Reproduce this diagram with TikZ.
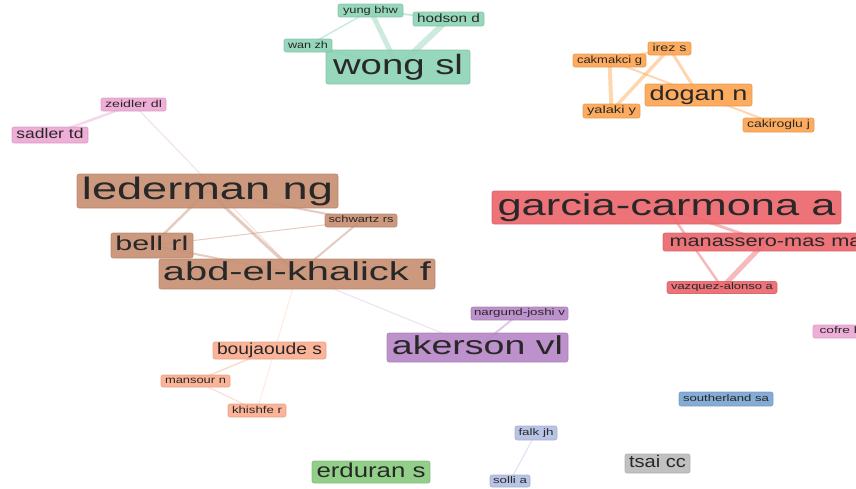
\documentclass[tikz,border=0pt]{standalone}
\usepackage{fontspec}
\setmainfont{Liberation Sans}
\usetikzlibrary{backgrounds}
\definecolor{cteal}{RGB}{143,212,183}
\definecolor{corange}{RGB}{253,166,82}
\definecolor{cpink}{RGB}{238,168,212}
\definecolor{cbrown}{RGB}{200,144,116}
\definecolor{cred}{RGB}{236,104,110}
\definecolor{cpurple}{RGB}{184,136,200}
\definecolor{csalmon}{RGB}{252,174,145}
\definecolor{cgreen}{RGB}{137,203,128}
\definecolor{clav}{RGB}{178,192,228}
\definecolor{cgray}{RGB}{188,188,188}
\definecolor{cblue}{RGB}{123,166,210}
\definecolor{txt}{RGB}{40,40,40}
\newcommand\lbl[3]{\resizebox{#2pt}{\height}{\fontsize{#1pt}{#1pt}\selectfont\vphantom{lgy}#3}}
\tikzset{
  vbox/.style={rectangle, rounded corners=2pt, fill=#1, draw=#1!88!black, line width=0.6pt,
    fill opacity=0.92, draw opacity=0.8, text opacity=1, text=txt, inner sep=0pt},
  link/.style={draw=#1, draw opacity=0.45, line cap=round},
  faint/.style={draw=#1, draw opacity=0.25, line width=1pt}
}
\begin{document}
\begin{tikzpicture}[x=1pt,y=-1pt]
\useasboundingbox (0,0) rectangle (856,488);
\clip (0,0) rectangle (856,488);
% teal cluster
\node[vbox=cteal, minimum width=144, minimum height=34] (wong) at (398,67) {\lbl{28}{130}{wong sl}};
\node[vbox=cteal, minimum width=65, minimum height=13] (yung) at (370.5,10.5) {\lbl{10}{55}{yung bhw}};
\node[vbox=cteal, minimum width=71, minimum height=14] (hodson) at (448.5,19) {\lbl{12}{63}{hodson d}};
\node[vbox=cteal, minimum width=48, minimum height=13] (wan) at (308,45.5) {\lbl{10}{40}{wan zh}};
% orange cluster
\node[vbox=corange, minimum width=43, minimum height=13] (irez) at (669.5,48.5) {\lbl{10.5}{34}{irez s}};
\node[vbox=corange, minimum width=73, minimum height=13] (cakmakci) at (609.5,60.5) {\lbl{10.5}{65}{cakmakci g}};
\node[vbox=corange, minimum width=107, minimum height=22] (dogan) at (698.5,95) {\lbl{20}{98}{dogan n}};
\node[vbox=corange, minimum width=57, minimum height=14] (yalaki) at (611.5,111) {\lbl{10.5}{49}{yalaki y}};
\node[vbox=corange, minimum width=71, minimum height=14] (cakiroglu) at (778.5,125) {\lbl{10.5}{63}{cakiroglu j}};
% pink
\node[vbox=cpink, minimum width=65, minimum height=13] (zeidler) at (133.5,104.5) {\lbl{10}{57}{zeidler dl}};
\node[vbox=cpink, minimum width=76, minimum height=16] (sadler) at (50,135) {\lbl{14}{67}{sadler td}};
\node[vbox=cpink, minimum width=55, minimum height=13] (cofre) at (840.5,331.5) {\lbl{9.5}{42}{cofre h}};
% brown
\node[vbox=cbrown, minimum width=261, minimum height=34] (lederman) at (207.5,191) {\lbl{31}{251}{lederman ng}};
\node[vbox=cbrown, minimum width=72, minimum height=13] (schwartz) at (361,220.5) {\lbl{9.5}{65}{schwartz rs}};
\node[vbox=cbrown, minimum width=82, minimum height=25] (bell) at (152,245.5) {\lbl{20}{73}{bell rl}};
\node[vbox=cbrown, minimum width=276, minimum height=30] (abd) at (297,274) {\lbl{26}{268}{abd-el-khalick f}};
% red
\node[vbox=cred, minimum width=349, minimum height=33] (garcia) at (666.5,207.5) {\lbl{30}{338}{garcia-carmona a}};
\node[vbox=cred, minimum width=205, minimum height=18] (manassero) at (765.5,242) {\lbl{16}{192}{manassero-mas ma}};
\node[vbox=cred, minimum width=110, minimum height=12] (vazquez) at (722,287.5) {\lbl{9.5}{102}{vazquez-alonso a}};
% purple
\node[vbox=cpurple, minimum width=181, minimum height=29] (akerson) at (477.5,347.5) {\lbl{26}{171}{akerson vl}};
\node[vbox=cpurple, minimum width=97, minimum height=13] (nargund) at (519.5,313.5) {\lbl{9.5}{91}{nargund-joshi v}};
% salmon
\node[vbox=csalmon, minimum width=113, minimum height=17] (boujaoude) at (269.5,350.5) {\lbl{16}{105}{boujaoude s}};
\node[vbox=csalmon, minimum width=69, minimum height=12] (mansour) at (195.5,381) {\lbl{10}{61}{mansour n}};
\node[vbox=csalmon, minimum width=58, minimum height=13] (khishfe) at (257,410.5) {\lbl{10}{50}{khishfe r}};
% others
\node[vbox=cgreen, minimum width=118, minimum height=22] (erduran) at (371,472) {\lbl{20}{109}{erduran s}};
\node[vbox=clav, minimum width=42, minimum height=14] (falk) at (536,433) {\lbl{9.5}{35}{falk jh}};
\node[vbox=clav, minimum width=40, minimum height=12] (solli) at (510,481) {\lbl{9.5}{34}{solli a}};
\node[vbox=cgray, minimum width=65, minimum height=19] (tsai) at (657.5,463.5) {\lbl{17}{57}{tsai cc}};
\node[vbox=cblue, minimum width=94, minimum height=14] (southerland) at (726,399) {\lbl{9.5}{86}{southerland sa}};
% links
\begin{scope}[on background layer]
\fill[white] (0,0) rectangle (856,488);
\draw[link=cteal, line width=5] (wong.center) -- (yung.center);
\draw[link=cteal, line width=6] (wong.center) -- (hodson.center);
\draw[link=cteal, line width=2.5] (wong.center) -- (wan.center);
\draw[link=cteal, line width=1.5] (wan.center) -- (yung.center);
\draw[link=cteal, line width=2] (yung.center) -- (hodson.center);
\draw[link=corange, line width=3] (irez.center) -- (dogan.center);
\draw[link=corange, line width=3.5] (irez.center) -- (yalaki.center);
\draw[link=corange, line width=4] (cakmakci.center) -- (yalaki.center);
\draw[link=corange, line width=2] (cakmakci.center) -- (irez.center);
\draw[link=corange, line width=2] (cakmakci.center) -- (cakiroglu.center);
\draw[link=cpink, line width=2.5] (sadler.center) -- (zeidler.center);
\draw[faint=cbrown] (zeidler.center) -- (abd.center);
\draw[link=cbrown, line width=3] (lederman.center) -- (abd.center);
\draw[link=cbrown, line width=2.5] (lederman.center) -- (bell.center);
\draw[link=cbrown, line width=2] (lederman.center) -- (schwartz.center);
\draw[link=cbrown, line width=1] (bell.center) -- (schwartz.center);
\draw[link=cbrown, line width=2] (bell.center) -- (abd.center);
\draw[link=cbrown, line width=2] (schwartz.center) -- (abd.center);
\draw[faint=csalmon] (abd.center) -- (khishfe.center);
\draw[faint=cpurple] (abd.center) -- (akerson.center);
\draw[link=cred, line width=3] (garcia.center) -- (manassero.center);
\draw[link=cred, line width=2.5] (garcia.center) -- (vazquez.center);
\draw[link=cred, line width=5] (manassero.center) -- (vazquez.center);
\draw[link=cpurple, line width=2] (akerson.center) -- (nargund.center);
\draw[link=csalmon, line width=1.5] (boujaoude.center) -- (mansour.center);
\draw[link=csalmon, line width=1] (mansour.center) -- (khishfe.center);
\draw[link=clav, line width=1] (falk.center) -- (solli.center);
\end{scope}
\end{tikzpicture}
\end{document}
